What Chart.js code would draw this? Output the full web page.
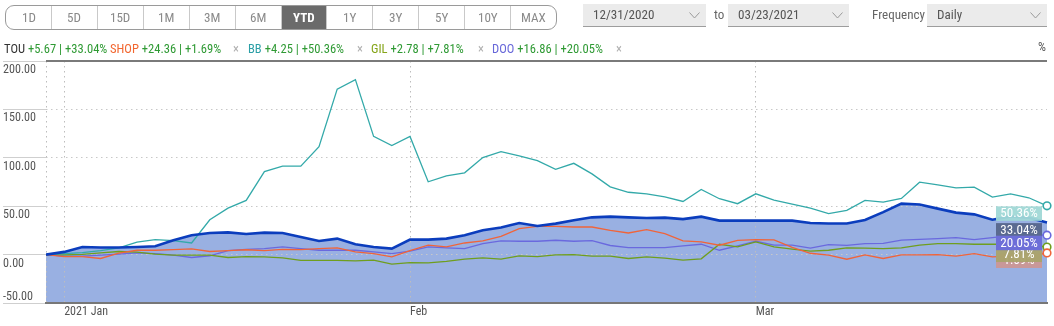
<!DOCTYPE html>
<html>
<head>
<meta charset="utf-8">
<script src="https://cdn.jsdelivr.net/npm/chart.js@4.4.1/dist/chart.umd.min.js"></script>
<style>
  html, body { margin: 0; padding: 0; background: #fff; width: 1054px; height: 326px; overflow: hidden; }
  #wrap { position: relative; width: 1054px; height: 326px; }
  #c { position: absolute; left: 0; top: 0; }
  .t { position: absolute; white-space: nowrap; transform-origin: 0 50%; }
  #range { position: absolute; left: 5px; top: 5px; width: 552px; height: 25px; box-sizing: border-box;
           border: 1px solid #9a9a9a; border-radius: 9px; overflow: hidden; display: flex; }
  #range .b { flex: 1 1 0; border-left: 1px solid #c9c9c9; text-align: center; line-height: 23px;
              color: #8a8a8a; font-size: 13px; overflow: hidden; }
  #range .b:first-child { border-left: none; }
  #range .b span { display: inline-block; transform-origin: 50% 50%; }
  #range .b.on { background: #6b6b6b; color: #fff; font-weight: bold; }
  .sel { position: absolute; top: 4px; height: 22px; background: #ebebeb; border-bottom: 1px solid #9d9d9d; }
  .sel .v { position: absolute; left: 10px; top: 0; line-height: 22px; color: #555; font-size: 13px; transform-origin: 0 50%; }
  .sel svg { position: absolute; right: 6px; top: 8px; }
  .lab { color: #666; font-size: 13px; top: 4px; line-height: 22px; }
  .leg { top: 42px; line-height: 14px; font-size: 12.5px; }
</style>
</head>
<body>
<div id="wrap">
  <canvas id="c" width="1054" height="326"></canvas>
  <div id="range"></div>
  <div class="sel" style="left:583px;width:123px"><span class="v">12/31/2020</span><svg width="11" height="7"><polyline points="0.5,0.5 5.5,6 10.5,0.5" fill="none" stroke="#9a9a9a" stroke-width="1"/></svg></div>
  <div class="t lab" style="left:714px">to</div>
  <div class="sel" style="left:728px;width:121px"><span class="v">03/23/2021</span><svg width="11" height="7"><polyline points="0.5,0.5 5.5,6 10.5,0.5" fill="none" stroke="#9a9a9a" stroke-width="1"/></svg></div>
  <div class="t lab" style="left:872px">Frequency</div>
  <div class="sel" style="left:927px;width:120px"><span class="v">Daily</span><svg width="11" height="7"><polyline points="0.5,0.5 5.5,6 10.5,0.5" fill="none" stroke="#9a9a9a" stroke-width="1"/></svg></div>
  <div id="legend"></div>
  <div class="t leg" style="left:1038px;top:40px;color:#555">%</div>
</div>
<script>
// ---- data -------------------------------------------------------------
const dates = ['2020-12-31',
  '2021-01-04','2021-01-05','2021-01-06','2021-01-07','2021-01-08','2021-01-11','2021-01-12','2021-01-13','2021-01-14','2021-01-15',
  '2021-01-19','2021-01-20','2021-01-21','2021-01-22','2021-01-25','2021-01-26','2021-01-27','2021-01-28','2021-01-29',
  '2021-02-01','2021-02-02','2021-02-03','2021-02-04','2021-02-05','2021-02-08','2021-02-09','2021-02-10','2021-02-11','2021-02-12',
  '2021-02-16','2021-02-17','2021-02-18','2021-02-19','2021-02-22','2021-02-23','2021-02-24','2021-02-25','2021-02-26',
  '2021-03-01','2021-03-02','2021-03-03','2021-03-04','2021-03-05','2021-03-08','2021-03-09','2021-03-10','2021-03-11','2021-03-12',
  '2021-03-15','2021-03-16','2021-03-17','2021-03-18','2021-03-19','2021-03-22','2021-03-23'];

const monthTicks = { '2021-01-04': '2021 Jan', '2021-02-01': 'Feb', '2021-03-01': 'Mar' };
const yTicks = [-50, 0, 50, 100, 150, 200];

const tickers = ['TOU', 'SHOP', 'BB', 'GIL', 'DOO'];
const changes = ['+5.67', '+24.36', '+4.25', '+2.78', '+16.86'];
const pctLabels = ['+33.04%', '+1.69%', '+50.36%', '+7.81%', '+20.05%'];

const tou = [0, 2.8, 7.9, 7.3, 7.3, 7.9, 8.6, 14.8, 20, 22.3,
  23, 21.3, 22.7, 22.3, 18.2, 14.1, 16.5, 10.7, 7.9, 6.2,
  15.5, 15.5, 16.5, 20, 25.1, 27.9, 32.6, 29.5, 32, 35.4,
  38.5, 39.2, 38.5, 37.8, 38.2, 36.7, 39.2, 35.1, 35.1, 35.1,
  35.1, 35.1, 32.6, 32.2, 32.2, 35.8, 43.9, 52.6, 51.7, 47.5,
  43.4, 41.6, 36.1, 39.5, 38, 33.04];
const shop = [0, -2, -2, -4, 1.5, 4.5, 4.5, 5.2, 5.9, 3.2,
  4.2, 5, 4.2, 5.4, 5.2, 6.2, 6.9, 2.8, 1.1, -2.3,
  4, 9.7, 7.9, 12, 14.1, 18.9, 26.9, 29.2, 29.2, 28.5,
  28.5, 25.1, 22.3, 25.8, 21.7, 14.1, 13.1, 9.7, 14.8, 15.5,
  15.3, 7.5, 1.4, -0.6, -4.8, -0.3, -4, -0.3, -0.3, 0,
  -1.6, 1.1, -2.3, -1.6, -2.3, 1.69];
const bb = [0, 1, 2, 4, 7, 13, 15.5, 14.5, 12, 36,
  48, 56, 85.8, 91.3, 91.3, 111.5, 170.9, 180.8, 122.1, 112.6,
  122.1, 75.2, 81.4, 84.5, 100.2, 106.4, 102, 97, 88, 94.3,
  83.4, 70, 64.4, 62.8, 59.6, 54.9, 67.3, 57.7, 52.6, 62.8,
  56.3, 52.2, 48.1, 42.3, 45.8, 56, 54.2, 58, 74.8, 72.1,
  69, 69.7, 59.4, 62.8, 58.7, 50.36];
const gil = [0, -0.3, 0.3, 1.8, 3.2, 2.5, 0.5, -0.6, -0.6, -0.6,
  -3, -2, -2.3, -3.4, -6, -6, -6, -6.5, -5.8, -9.9,
  -8.2, -8.5, -7.1, -4.7, -3.4, -4.7, -1.3, -2, -0.3, 0,
  -1.6, -1.6, -4, -2.3, -3.7, -5.8, -4.4, 10.7, 7.9, 13.1,
  7.9, 5.6, 3.5, 4.5, 6.9, 6.6, 6.2, 6.9, 9.7, 11.4,
  11.4, 10.7, 10.7, 10.7, 10.7, 7.81];
const doo = [0, -1.6, -1.6, -0.6, 0.4, 1.8, 1.1, -0.6, -3, -1.2,
  4.2, 5.4, 6.2, 7.9, 6.2, 4.5, 4.5, 4.5, 2.8, 1.1,
  3.5, 7.9, 6.9, 6.2, 11.4, 14.1, 13.8, 13.8, 14.8, 13.8,
  14.5, 9.4, 7.3, 7.3, 7.3, 9, 10.7, 4.5, 9, 13.8,
  9.7, 9.7, 6.6, 10.4, 9.5, 11.4, 11.5, 15, 15.7, 16.5,
  17.6, 15.5, 17.6, 19.5, 20.5, 20.05];

const ranges = ['1D', '5D', '15D', '1M', '3M', '6M', 'YTD', '1Y', '3Y', '5Y', '10Y', 'MAX'];
const activeRange = 'YTD';

// ---- styling ----------------------------------------------------------
const lineColors = { TOU: '#0b3dbd', SHOP: '#f0643a', BB: '#33a9a9', GIL: '#6f9e1e', DOO: '#6a69de' };
const nameColors = { TOU: '#333333', SHOP: '#f2662f', BB: '#2b9fa6', GIL: '#86a51a', DOO: '#6767d9' };
const tagColors  = { TOU: '#5a6a90', SHOP: 'rgba(205,150,146,0.92)', BB: 'rgba(160,216,214,0.95)', GIL: 'rgba(170,163,108,0.95)', DOO: '#6d6ed8' };

// pick a narrow face if one is installed; otherwise squeeze Roboto
function hasFont(name) {
  const c = document.createElement('canvas').getContext('2d');
  c.font = '40px monospace';
  const a = c.measureText('abcdefghij0123456789').width;
  c.font = '40px "' + name + '", monospace';
  return Math.abs(c.measureText('abcdefghij0123456789').width - a) > 0.5;
}
const narrow = ['Liberation Sans Narrow', 'Roboto Condensed', 'Arial Narrow'].find(hasFont);
const FAMILY = narrow ? '"' + narrow + '", Roboto, sans-serif' : 'Roboto, sans-serif';
const mctx = document.createElement('canvas').getContext('2d');
mctx.font = '12px ' + FAMILY;
const SX = 33 / mctx.measureText('200.00').width;   // horizontal squeeze for text

document.getElementById('wrap').style.fontFamily = FAMILY;

// ---- toolbar ------------------------------------------------------------
const rangeEl = document.getElementById('range');
ranges.forEach(r => {
  const d = document.createElement('div');
  d.className = 'b' + (r === activeRange ? ' on' : '');
  d.innerHTML = '<span style="transform:scaleX(' + SX + ')">' + r + '</span>';
  rangeEl.appendChild(d);
});
document.querySelectorAll('.sel .v, .lab').forEach(e => e.style.transform = 'scaleX(' + SX + ')');
document.querySelectorAll('.leg').forEach(e => e.style.transform = 'scaleX(' + SX + ')');

// ---- legend row ---------------------------------------------------------
const legendX = [4, 110, 248, 371, 492];
const closeX = [null, 233, 357, 478, 616];
const legEl = document.getElementById('legend');
tickers.forEach((tk, i) => {
  const d = document.createElement('div');
  d.className = 't leg';
  d.style.left = legendX[i] + 'px';
  d.style.transform = 'scaleX(' + SX + ')';
  d.innerHTML = '<span style="color:' + nameColors[tk] + '">' + tk + '</span>' +
    '<span style="color:#2f9a34"> ' + changes[i] + ' | ' + pctLabels[i] + '</span>';
  legEl.appendChild(d);
  if (closeX[i] !== null) {
    const x = document.createElement('div');
    x.className = 't leg';
    x.style.left = closeX[i] + 'px';
    x.style.color = '#b0b0b0';
    x.textContent = '\u00d7';
    legEl.appendChild(x);
  }
});

// ---- chart --------------------------------------------------------------
const seriesData = { TOU: tou, SHOP: shop, BB: bb, GIL: gil, DOO: doo };
const last = dates.length - 1;

function squeezedText(ctx, txt, x, y, align) {
  ctx.save();
  ctx.translate(x, y);
  ctx.scale(SX, 1);
  ctx.textAlign = align;
  ctx.textBaseline = 'middle';
  ctx.fillText(txt, 0, 0);
  ctx.restore();
}

const decorations = {
  id: 'decorations',
  afterDraw(chart) {
    const ctx = chart.ctx, ys = chart.scales.y, area = chart.chartArea;
    // top frame line
    ctx.save();
    ctx.strokeStyle = '#7a7a7a';
    ctx.lineWidth = 2;
    ctx.beginPath();
    ctx.moveTo(area.left, ys.getPixelForValue(ys.max));
    ctx.lineTo(area.right, ys.getPixelForValue(ys.max));
    ctx.stroke();
    // y labels sit just under their tick line
    ctx.fillStyle = '#555';
    ctx.font = '12px ' + FAMILY;
    ys.ticks.forEach(t => {
      const py = ys.getPixelForValue(t.value);
      const ly = t.value === ys.min ? py - 6 : py + 9;
      squeezedText(ctx, t.value.toFixed(2), 3, ly, 'left');
    });
    // closing-value tags at the right edge
    ctx.font = '13px ' + FAMILY;
    ['BB', 'TOU', 'SHOP', 'GIL', 'DOO'].forEach(tk => {
      const v = seriesData[tk][last];
      const top = ys.getPixelForValue(v) + 0.5;
      ctx.fillStyle = tagColors[tk];
      ctx.fillRect(996, top, 46, 14.5);
      ctx.fillStyle = '#fff';
      squeezedText(ctx, v.toFixed(2) + '%', 1019, top + 7.6, 'center');
    });
    ctx.restore();
  }
};

const order = ['TOU', 'SHOP', 'BB', 'GIL', 'DOO'];
const datasets = order.map(tk => ({
  label: tk,
  data: seriesData[tk],
  borderColor: lineColors[tk],
  borderWidth: tk === 'TOU' ? 2.6 : 1.3,
  backgroundColor: tk === 'TOU' ? '#99b0e2' : 'transparent',
  fill: tk === 'TOU' ? 'start' : false,
  tension: 0,
  pointRadius: tk === 'TOU' ? 0 : (c => c.dataIndex === last ? 3.8 : 0),
  pointBorderWidth: 1.6,
  pointBackgroundColor: '#ffffff',
  pointBorderColor: lineColors[tk],
  clip: { left: 0, top: 0, right: 8, bottom: 0 }
}));

new Chart(document.getElementById('c'), {
  type: 'line',
  data: { labels: dates, datasets },
  plugins: [decorations],
  options: {
    responsive: false,
    animation: false,
    events: [],
    layout: { padding: { top: 61, right: 7, left: 0, bottom: 0 } },
    plugins: {
      legend: { display: false },
      tooltip: { enabled: false },
      filler: { drawTime: 'beforeDraw' }
    },
    scales: {
      x: {
        type: 'category',
        offset: false,
        afterFit: s => { s.height = 23; },
        border: { display: true, color: '#777', width: 2, dash: [1.5, 3.5] },
        grid: {
          drawTicks: false,
          color: c => (c.index === 0 || monthTicks[dates[c.index]]) ? '#bdbdbd' : 'rgba(0,0,0,0)',
          lineWidth: 1
        },
        ticks: {
          autoSkip: false,
          maxRotation: 0,
          align: 'start',
          padding: 2,
          color: '#555',
          font: { family: FAMILY, size: 12 },
          callback: (v, i) => monthTicks[dates[i]] || ''
        }
      },
      y: {
        min: yTicks[0],
        max: yTicks[yTicks.length - 1],
        afterFit: s => { s.width = 46; },
        afterBuildTicks: s => { s.ticks = yTicks.map(v => ({ value: v })); },
        border: { display: false, dash: [1.5, 3.5] },
        grid: {
          drawTicks: true,
          tickLength: 43,
          tickColor: '#cfcfcf',
          tickBorderDash: [],
          color: c => (c.tick && (c.tick.value === yTicks[0] || c.tick.value === yTicks[yTicks.length - 1])) ? 'rgba(0,0,0,0)' : '#c8c8c8'
        },
        ticks: { display: false }
      }
    }
  }
});
</script>
</body>
</html>
